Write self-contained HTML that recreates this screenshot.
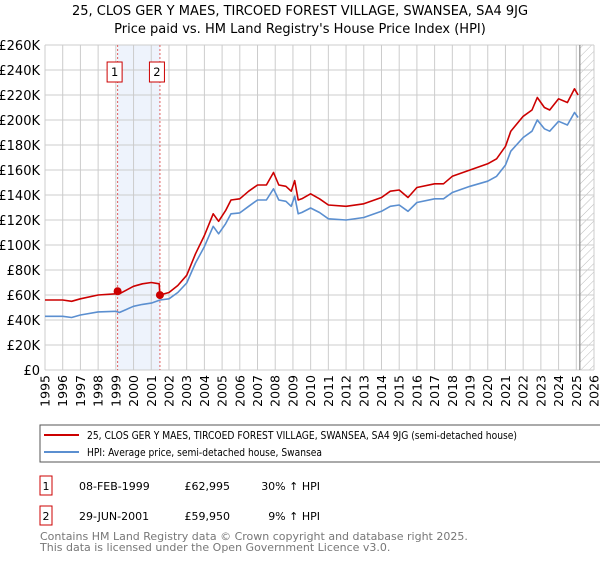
<!DOCTYPE html>
<html><head><meta charset="utf-8"><style>
body{margin:0;background:#fff;font-family:"Liberation Sans","DejaVu Sans",sans-serif;}
</style></head><body>
<svg id="c" width="600" height="560" xmlns="http://www.w3.org/2000/svg" style="font-family:'DejaVu Sans','Liberation Sans',sans-serif">
<defs><pattern id="h" width="6" height="6" patternUnits="userSpaceOnUse" patternTransform="rotate(45)"><line x1="0" y1="0" x2="0" y2="6" stroke="#bbb" stroke-width="1"/></pattern></defs>
<text x="300" y="15" text-anchor="middle" font-size="13">25, CLOS GER Y MAES, TIRCOED FOREST VILLAGE, SWANSEA, SA4 9JG</text>
<text x="300" y="33" text-anchor="middle" font-size="13">Price paid vs. HM Land Registry's House Price Index (HPI)</text>
<g id="grid"></g><g id="marks"></g>
<rect x="40" y="425" width="565" height="37" fill="#fff" stroke="#555"/>
<line x1="44" y1="435" x2="79" y2="435" stroke="#cc0000" stroke-width="2"/>
<text x="87" y="439" font-size="11" textLength="430" lengthAdjust="spacingAndGlyphs">25, CLOS GER Y MAES, TIRCOED FOREST VILLAGE, SWANSEA, SA4 9JG (semi-detached house)</text>
<line x1="44" y1="452" x2="79" y2="452" stroke="#5b8fd0" stroke-width="2"/>
<text x="87" y="456" font-size="11" textLength="235" lengthAdjust="spacingAndGlyphs">HPI: Average price, semi-detached house, Swansea</text>
<g font-size="11">
<rect x="40" y="476" width="12" height="19" fill="#fff" stroke="#cc0000"/><text x="46" y="490" text-anchor="middle">1</text>
<text x="79" y="490">08-FEB-1999</text><text x="230" y="490" text-anchor="end">£62,995</text><text x="320" y="490" text-anchor="end">30% ↑ HPI</text>
<rect x="40" y="506" width="12" height="19" fill="#fff" stroke="#cc0000"/><text x="46" y="520" text-anchor="middle">2</text>
<text x="79" y="520">29-JUN-2001</text><text x="230" y="520" text-anchor="end">£59,950</text><text x="320" y="520" text-anchor="end">9% ↑ HPI</text>
</g>
<text x="40" y="540" font-size="11" fill="#777">Contains HM Land Registry data © Crown copyright and database right 2025.</text>
<text x="40" y="551" font-size="11" fill="#777">This data is licensed under the Open Government Licence v3.0.</text>
</svg>
<script>
const hpiYears=[1995,1996,1996.5,1997,1998,1999,1999.2,2000,2000.5,2001,2001.5,2002,2002.5,2003,2003.5,2004,2004.5,2004.8,2005.2,2005.5,2006,2006.5,2007,2007.5,2007.9,2008.2,2008.6,2008.9,2009.1,2009.3,2009.5,2010,2010.5,2011,2012,2013,2014,2014.5,2015,2015.5,2016,2017,2017.5,2018,2019,2020,2020.5,2021,2021.3,2022,2022.5,2022.8,2023.2,2023.5,2024,2024.5,2024.9,2025.1];
const hpiValues=[43,43,42,44,46.5,47,46,51,52.5,53.5,56,57,62,69.6,85.6,98.7,115,109,117,125,125.7,131,136,136,145,136,135,131,139,125,126,129.6,126,121,120,122,127,131,132,127,134,137,137,142,147,151,155,164,175,186,191,200,193,191,199,196,206,202];
const priceYears=[1995,1996,1996.5,1997,1998,1999,1999.1,1999.2,2000,2000.5,2001,2001.45,2001.49,2002,2002.5,2003,2003.5,2004,2004.5,2004.8,2005.2,2005.5,2006,2006.5,2007,2007.5,2007.9,2008.2,2008.6,2008.9,2009.1,2009.3,2009.5,2010,2010.5,2011,2012,2013,2014,2014.5,2015,2015.5,2016,2017,2017.5,2018,2019,2020,2020.5,2021,2021.3,2022,2022.5,2022.8,2023.2,2023.5,2024,2024.5,2024.9,2025.1];
const priceValues=[56,56,55,57,60,61,63,61,67,69,70,69,60,62,67.6,75.8,93,107.6,125,119,127.5,136,137,143,148,148,158,148,147,143,151.5,136,137,141,137,132,131,133,138,143,144,138,146,149,149,155,160,165,169,179,191,203,208,218,210,208,217,214,225,220];
const saleYears=[1999.1,2001.49];
const saleValues=[62.995,59.95];
const saleLabels=["1","2"];
const yTicks=[0,20,40,60,80,100,120,140,160,180,200,220,240,260];
const xTicks=[1995,1996,1997,1998,1999,2000,2001,2002,2003,2004,2005,2006,2007,2008,2009,2010,2011,2012,2013,2014,2015,2016,2017,2018,2019,2020,2021,2022,2023,2024,2025,2026];
const NS="http://www.w3.org/2000/svg";
const X0=45,X1=594,Y0=370,Y1=45;
const xs=y=>X0+(y-1995)/(2026-1995)*(X1-X0);
const ys=v=>Y0-v/260*(Y0-Y1);
const grid=document.getElementById('grid'),marks=document.getElementById('marks');
function mk(tag,a,p){const e=document.createElementNS(NS,tag);for(const k in a)e.setAttribute(k,a[k]);p.appendChild(e);return e;}
let r=mk('rect',{x:xs(saleYears[0]),y:Y1,width:xs(saleYears[1])-xs(saleYears[0]),height:Y0-Y1,fill:'#eef3fc'},grid);


r=mk('rect',{x:xs(2025.2),y:Y1,width:X1-xs(2025.2),height:Y0-Y1,fill:'url(#h)'},grid);


yTicks.forEach(v=>{
 const l=mk('line',{x1:X0,x2:X1,y1:ys(v),y2:ys(v),stroke:'#ccc'},grid);
 
 
 const t=mk('text',{x:40,y:ys(v)+5,'text-anchor':'end','font-size':'13'},grid);
 
 
 t.textContent=v===0?'£0':'£'+v+'K';
});
xTicks.forEach(y=>{
 const l=mk('line',{x1:xs(y),x2:xs(y),y1:Y1,y2:Y0,stroke:'#ccc'},grid);
 
 
 const t=mk('text',{x:0,y:0,'text-anchor':'end','font-size':'12.5',transform:`translate(${xs(y)+4.5},375) rotate(-90)`},grid);
 
 
 t.textContent=y;
});
let v=mk('line',{x1:xs(2025.2),x2:xs(2025.2),y1:Y1,y2:Y0,stroke:'#888','stroke-width':1.2},grid);


saleYears.forEach((y,i)=>{
 const l=mk('line',{x1:xs(y),x2:xs(y),y1:Y1,y2:Y0,stroke:'#e06060','stroke-dasharray':'2,2'},grid);
 
 
 const b=mk('rect',{x:xs(y)-10.5,y:62,width:15,height:20,fill:'#fff',stroke:'#cc0000'},grid);
 
 
 const t=mk('text',{x:xs(y)-3,y:76,'text-anchor':'middle','font-size':'11.5'},grid);
 
 
 t.textContent=saleLabels[i];
});
function path(yrs,vals,col,name){
 const p=mk('path',{d:yrs.map((y,i)=>(i?'L':'M')+xs(y).toFixed(1)+','+ys(vals[i]).toFixed(1)).join(''),fill:'none',stroke:col,'stroke-width':1.6,'stroke-linejoin':'round'},marks);
 
 
}
path(hpiYears,hpiValues,'#5b8fd0','hpi-line');
path(priceYears,priceValues,'#cc0000','price-paid-line');
saleYears.forEach((y,i)=>{
 const c=mk('circle',{cx:xs(y),cy:ys(saleValues[i]),r:4,fill:'#cc0000'},marks);
 
 
});
</script>
</body></html>
